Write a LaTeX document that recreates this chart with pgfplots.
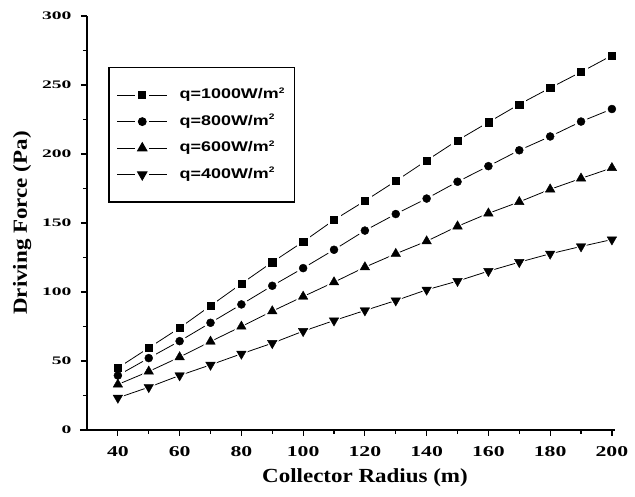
\documentclass[border=0pt]{standalone}
\usepackage{fontspec}
\setmainfont{Liberation Serif}
\newfontfamily\legfont{Liberation Sans}
\usepackage{graphicx}
\usepackage{pgfplots}
\usepackage{pgfplotstable}
\pgfplotsset{compat=1.18}
\pgfplotsset{gaplegend/.style={legend image code/.code={
   \draw[##1, mark=none, line width=0.9pt] (0pt,0pt) -- (18pt,0pt);
   \draw[##1, mark=none, line width=0.9pt] (32pt,0pt) -- (50pt,0pt);
   \draw[##1, line width=0.8pt] plot coordinates {(25pt,0pt)};
 }}}
\newcommand{\sq}{\raisebox{5.5pt}{\fontsize{8}{8}\selectfont 2}}
\pgfplotstableread{
x a b c d
40 45 39.5 33 23.3
50 59.5 52.1 42.4 31
60 74 64.4 52.8 39.5
70 90 77.7 64.1 47.2
80 106 91 75 55.2
90 121.6 104.5 86.1 62.9
100 136.4 117.3 96.7 71.6
110 152.2 130.6 107.1 79.3
120 166 144.5 118 86.6
130 180.4 156.5 127.7 93.8
140 195.3 167.7 136.8 101.6
150 209.9 179.9 147.6 107.9
160 223 191.2 157 115.1
170 236 202.7 165.3 121.6
180 247.9 212.7 174.4 127.7
190 259.4 223.5 182.3 133
200 271.4 232.6 189.9 138
}\data
\begin{document}
\begin{tikzpicture}
\path[use as bounding box] (-87pt,-67pt) rectangle (548pt,430pt);
\begin{axis}[
 scale only axis, width=528pt, height=414pt,
 xmin=30, xmax=201, ymin=0, ymax=300,
 axis x line*=bottom, axis y line*=left,
 axis line style={line width=1.2pt, -},
 x axis line style={shorten <=-7pt},
 tick align=outside,
 xtick={40,60,...,200}, minor xtick={50,70,...,190},
 ytick={0,50,...,300}, minor ytick={25,75,...,275},
 major tick length=6pt, minor tick length=4pt,
 every tick/.style={black, line width=1.2pt},
 /pgf/number format/assume math mode=true,
 xticklabel={\scalebox{1.45}[1]{\bfseries\fontsize{15}{15}\selectfont\pgfmathprintnumber{\tick}}},
 yticklabel={\scalebox{1.7}[1]{\bfseries\fontsize{11.5}{11.5}\selectfont\pgfmathprintnumber{\tick}}},
 xticklabel style={yshift=-7pt},
 yticklabel style={xshift=-6pt},
 xlabel={\scalebox{1.15}[1]{\bfseries\fontsize{20}{20}\selectfont Collector Radius (m)}},
 ylabel={\scalebox{1.15}[1]{\bfseries\fontsize{20}{20}\selectfont Driving Force (Pa)}},
 xlabel style={at={(axis description cs:0.5265,-0.116)}, anchor=center},
 ylabel style={at={(axis description cs:-0.123,0.5)}, anchor=center},
 legend cell align=left,
 legend style={at={(axis description cs:0.04,0.877)}, anchor=north west,
   draw=black, line width=1.4pt, fill=white,
   font=\legfont\bfseries\fontsize{14}{16}\selectfont,
   nodes={inner sep=2pt, text height=10pt, text depth=3pt},
   column sep=10pt,
   row sep=9.5pt, inner xsep=8pt, inner ysep=19pt},
]
\addplot[black, line width=0.8pt, forget plot] table[x=x,y=a]{\data};
\addplot[black, line width=0.8pt, forget plot] table[x=x,y=b]{\data};
\addplot[black, line width=0.8pt, forget plot] table[x=x,y=c]{\data};
\addplot[black, line width=0.8pt, forget plot] table[x=x,y=d]{\data};
\addplot[only marks, white, mark=square*, mark size=6pt, forget plot] table[x=x,y=a]{\data};
\addplot[only marks, white, mark=*, mark size=6.5pt, forget plot] table[x=x,y=b]{\data};
\addplot[only marks, white, mark=triangle*, mark size=8pt, forget plot] table[x=x,y=c]{\data};
\addplot[only marks, white, mark=triangle*, mark size=8pt, mark options={rotate=180}, forget plot] table[x=x,y=d]{\data};
\addplot[only marks, black, mark=square*, mark size=3.6pt, forget plot] table[x=x,y=a]{\data};
\addplot[only marks, black, mark=*, mark size=4pt, forget plot] table[x=x,y=b]{\data};
\addplot[only marks, black, mark=triangle*, mark size=5.5pt, forget plot] table[x=x,y=c]{\data};
\addplot[only marks, black, mark=triangle*, mark size=5.5pt, mark options={rotate=180}, forget plot] table[x=x,y=d]{\data};
\addlegendimage{black, mark=square*, mark size=3.6pt, gaplegend}
\addlegendentry{\scalebox{1.28}[1]{q=1000W/m\sq}}
\addlegendimage{black, mark=*, mark size=4pt, gaplegend}
\addlegendentry{\scalebox{1.28}[1]{q=800W/m\sq}}
\addlegendimage{black, mark=triangle*, mark size=5.5pt, gaplegend}
\addlegendentry{\scalebox{1.28}[1]{q=600W/m\sq}}
\addlegendimage{black, mark=triangle*, mark size=5.5pt, mark options={rotate=180}, gaplegend}
\addlegendentry{\scalebox{1.28}[1]{q=400W/m\sq}}
\end{axis}
\end{tikzpicture}
\end{document}
